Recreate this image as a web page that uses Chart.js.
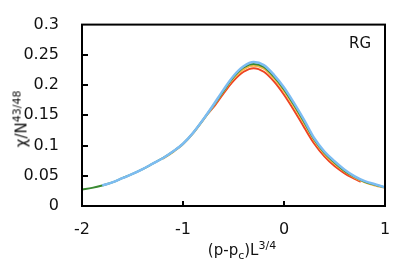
<!DOCTYPE html>
<html><head><meta charset="utf-8">
<script src="https://cdn.jsdelivr.net/npm/chart.js@4/dist/chart.umd.min.js"></script>
<style>
html,body{margin:0;padding:0;background:#fff;}
#wrap{position:relative;width:415px;height:268px;font-family:"DejaVu Sans",Verdana,sans-serif;color:#111;}
canvas{position:absolute;left:0;top:0;}
.lbl{position:absolute;white-space:nowrap;font-size:15px;line-height:1;}
sup,sub{font-size:11px;line-height:0;}
#ytitle{left:22px;top:119px;transform:translate(-50%,-50%) rotate(-90deg);}
#xtitle{left:242px;top:243px;transform:translateX(-50%);}
#rg{left:349px;top:36px;font-size:15px;}
</style></head><body>
<div id="wrap">
<canvas id="c" width="415" height="268"></canvas>
<div class="lbl" id="ytitle">χ/N<sup>43/48</sup></div>
<div class="lbl" id="xtitle">(p-p<sub>c</sub>)L<sup>3/4</sup></div>
<div class="lbl" id="rg">RG</div>
</div>
<script>
const xTickValues = [-2, -1, 0, 1];
const xTickLabels = ["-2", "-1", "0", "1"];
const yTickValues = [0, 0.05, 0.1, 0.15, 0.2, 0.25, 0.3];
const yTickLabels = ["0", "0.05", "0.1", "0.15", "0.2", "0.25", "0.3"];

const blueX = [-1.8,-1.7,-1.6,-1.5,-1.4,-1.3,-1.2,-1.1,-1.0,-0.9,-0.8,-0.7,-0.6,-0.5,-0.4,-0.3,-0.2,-0.1,0,0.1,0.2,0.3,0.4,0.5,0.6,0.7,0.8,0.9,1.0];
const blueY = [0.034,0.039,0.046,0.053,0.061,0.070,0.079,0.090,0.103,0.121,0.143,0.167,0.192,0.215,0.231,0.238,0.233,0.217,0.196,0.170,0.142,0.112,0.090,0.074,0.060,0.049,0.041,0.036,0.031];

const greenX = [-2.0,-1.9,-1.8,-1.7,-1.6,-1.5,-1.4,-1.3,-1.2,-1.1,-1.0,-0.9,-0.8,-0.7,-0.6,-0.5,-0.4,-0.3,-0.2,-0.1,0,0.1,0.2,0.3,0.4,0.5,0.6,0.7,0.8,0.9,1.0];
const greenY = [0.027,0.030,0.034,0.039,0.046,0.053,0.061,0.070,0.079,0.090,0.103,0.121,0.143,0.166,0.190,0.213,0.229,0.235,0.230,0.214,0.193,0.167,0.139,0.110,0.088,0.072,0.058,0.048,0.040,0.035,0.031];

const orangeX = [-1.2,-1.1,-1.0,-0.9,-0.8,-0.7,-0.6,-0.5,-0.4,-0.3,-0.2,-0.1,0,0.1,0.2,0.3,0.4,0.5,0.6,0.7,0.8,0.9,1.0];
const orangeY = [0.078,0.089,0.102,0.120,0.142,0.165,0.189,0.211,0.226,0.232,0.227,0.211,0.190,0.164,0.136,0.108,0.086,0.070,0.057,0.047,0.039,0.034,0.030];

const redX = [-0.76,-0.7,-0.6,-0.5,-0.4,-0.3,-0.2,-0.1,0,0.1,0.2,0.3,0.4,0.5,0.6,0.7,0.76];
const redY = [0.152,0.163,0.186,0.207,0.222,0.228,0.222,0.206,0.184,0.158,0.130,0.103,0.082,0.066,0.054,0.045,0.040];

function pts(xs, ys){ return xs.map((x,i)=>({x:x, y:ys[i]})); }
function ds(xs, ys, color, w){
  return {data:pts(xs,ys), borderColor:color, borderWidth:w, pointRadius:0, showLine:true, fill:false, cubicInterpolationMode:'monotone'};
}

const framePlugin = {
  id:'frame',
  afterDraw(chart){
    const {ctx, chartArea:a, scales} = chart;
    ctx.save();
    ctx.strokeStyle = '#000';
    ctx.lineWidth = 2;
    ctx.strokeRect(a.left, a.top, a.right - a.left, a.bottom - a.top);
    ctx.beginPath();
    yTickValues.forEach(v=>{
      if (v===0 || v===0.3) return;
      const y = Math.round(scales.y.getPixelForValue(v));
      ctx.moveTo(a.left, y); ctx.lineTo(a.left + 6, y);
    });
    xTickValues.forEach(v=>{
      if (v===-2 || v===1) return;
      const x = Math.round(scales.x.getPixelForValue(v));
      ctx.moveTo(x, a.bottom); ctx.lineTo(x, a.bottom - 5);
    });
    ctx.stroke();
    ctx.restore();
  }
};

new Chart(document.getElementById('c'), {
  type:'scatter',
  data:{datasets:[
    ds(blueX, blueY, '#7cbcf2', 2.5),
    ds(greenX, greenY, '#3a8a32', 2),
    ds(orangeX, orangeY, '#f7b64a', 2),
    ds(redX, redY, '#ee4322', 2)
  ]},
  options:{
    responsive:false, animation:false,
    layout:{padding:{left:0, right:30, top:22, bottom:0}},
    plugins:{legend:{display:false}, tooltip:{enabled:false}},
    scales:{
      x:{type:'linear', min:-2, max:1,
        afterFit(s){ s.height = 62; },
        afterBuildTicks(s){ s.ticks = xTickValues.map(v=>({value:v})); },
        grid:{display:false}, border:{display:false},
        ticks:{padding:6, color:'#111', font:{family:'"DejaVu Sans", Verdana, sans-serif', size:16},
          callback:(v)=>{ const i = xTickValues.indexOf(v); return i>=0 ? xTickLabels[i] : ''; }}
      },
      y:{type:'linear', min:0, max:0.3,
        afterFit(s){ s.width = 82; },
        afterBuildTicks(s){ s.ticks = yTickValues.map(v=>({value:v})); },
        grid:{display:false}, border:{display:false},
        ticks:{padding:15, color:'#111', font:{family:'"DejaVu Sans", Verdana, sans-serif', size:16},
          callback:(v)=>{ const i = yTickValues.findIndex(t=>Math.abs(t-v)<1e-9); return i>=0 ? yTickLabels[i] : ''; }}
      }
    }
  },
  plugins:[framePlugin]
});
</script>
</body></html>
